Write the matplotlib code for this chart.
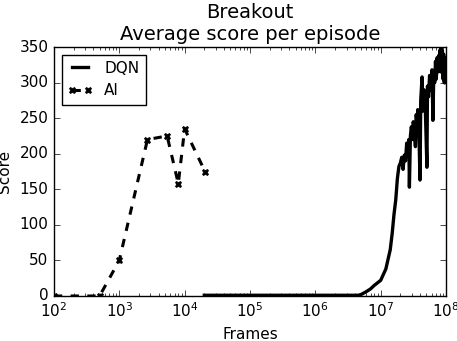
import matplotlib
matplotlib.use('Agg')
import matplotlib.pyplot as plt

plt.style.use('classic')

# DQN (frames, score)
dqn_frames = [2e4, 5e4, 1e5, 2e5, 5e5, 1e6, 2e6, 3e6, 4e6, 4.5e6, 5e6, 6e6, 7e6, 8e6,
              1e7, 1.2e7, 1.4e7, 1.5e7, 1.6e7, 1.7e7, 1.8e7, 1.9e7,
              2e7, 2.1e7, 2.2e7, 2.3e7, 2.4e7, 2.5e7, 2.6e7, 2.7e7, 2.75e7, 2.85e7,
              2.95e7, 3.05e7, 3.15e7, 3.25e7, 3.4e7, 3.5e7, 3.6e7, 3.7e7, 3.8e7,
              4e7, 4.1e7, 4.3e7, 4.4e7, 4.6e7, 4.8e7, 5.1e7, 5.2e7, 5.4e7, 5.6e7,
              5.8e7, 6.1e7, 6.3e7, 6.5e7, 6.7e7, 6.9e7, 7.1e7, 7.3e7, 7.5e7, 7.7e7,
              7.9e7, 8.1e7, 8.3e7, 8.45e7, 8.6e7, 8.8e7, 9e7, 9.2e7, 9.4e7, 9.6e7, 9.8e7]
dqn_score = [1, 1, 1, 1, 1, 1, 1, 1, 1, 1, 2, 6, 10, 15,
             22, 38, 65, 88, 115, 135, 165, 182,
             187, 195, 178, 198, 190, 215, 200, 220, 153, 225,
             238, 220, 245, 235, 210, 255, 240, 262, 250,
             163, 275, 308, 260, 290, 270, 181, 295, 280, 310,
             290, 318, 247, 315, 300, 330, 305, 335, 315, 338,
             320, 346, 315, 349, 325, 345, 305, 340, 300, 335, 300]

# AI (frames, score)
ai_frames = [100, 500, 1000, 2700, 5400, 8000, 10000, 20500]
ai_score = [0, 0, 50, 220, 225, 158, 235, 175]

fig = plt.figure(figsize=(4.57, 3.41), dpi=100, facecolor='white')
ax = fig.add_axes([0.118, 0.132, 0.858, 0.730])

ax.plot(dqn_frames, dqn_score, 'k-', lw=2.4, label='DQN')
ax.plot(ai_frames, ai_score, 'k--', lw=2.2, marker='X', ms=5, mec='k', label='AI')

ax.set_xscale('log')
ax.set_xlim(1e2, 1e8)
ax.set_ylim(0, 350)
ax.set_xlabel('Frames', fontsize=11)
ax.set_ylabel('Score', fontsize=11)
ax.set_title('Breakout\nAverage score per episode', fontsize=14)
ax.tick_params(labelsize=11)
ax.legend(loc='upper left', fontsize=11, handlelength=1.6, numpoints=2)

fig.savefig('out.png', dpi=100, facecolor='white')
